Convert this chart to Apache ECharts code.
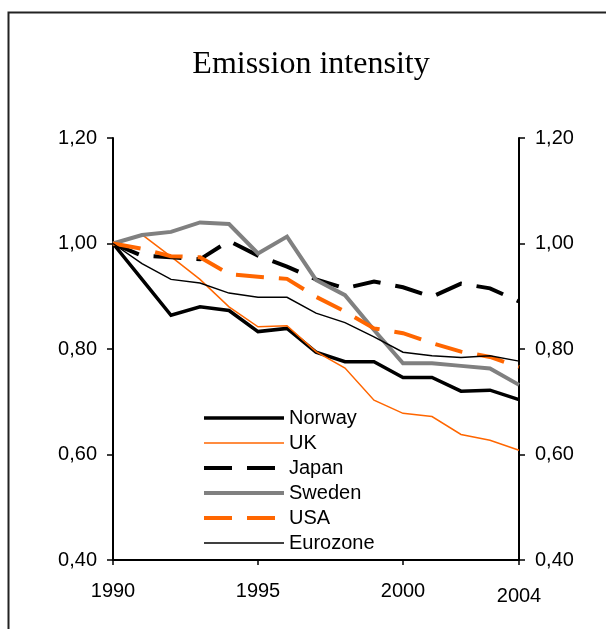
<!DOCTYPE html>
<html>
<head>
<meta charset="utf-8">
<script src="https://cdn.jsdelivr.net/npm/echarts@6/dist/echarts.min.js"></script>
<style>
html,body{margin:0;padding:0;background:#fff;}
#chart{width:606px;height:629px;}
</style>
</head>
<body>
<div id="chart"></div>
<script>
var years = [1990,1991,1992,1993,1994,1995,1996,1997,1998,1999,2000,2001,2002,2003,2004];
var norway   = [1.00, 0.932, 0.864, 0.880, 0.873, 0.833, 0.839, 0.794, 0.776, 0.776, 0.746, 0.746, 0.720, 0.722, 0.704];
var uk       = [1.00, 1.017, 0.975, 0.932, 0.880, 0.842, 0.844, 0.795, 0.764, 0.703, 0.678, 0.672, 0.638, 0.627, 0.608];
var japan    = [1.00, 0.977, 0.974, 0.970, 1.005, 0.977, 0.956, 0.932, 0.915, 0.928, 0.917, 0.899, 0.924, 0.915, 0.890];
var sweden   = [1.00, 1.016, 1.022, 1.040, 1.037, 0.981, 1.013, 0.931, 0.902, 0.836, 0.773, 0.773, 0.768, 0.763, 0.732];
var usa      = [1.00, 0.990, 0.976, 0.974, 0.942, 0.937, 0.933, 0.899, 0.871, 0.839, 0.830, 0.811, 0.795, 0.785, 0.766];
var eurozone = [1.00, 0.962, 0.932, 0.925, 0.906, 0.898, 0.898, 0.868, 0.850, 0.823, 0.794, 0.787, 0.784, 0.787, 0.777];
var seriesNames = ['Norway','UK','Japan','Sweden','USA','Eurozone'];

function pairs(vals){ return vals.map(function(v,i){ return [years[i], v]; }); }
function fmtY(v){ return v.toFixed(2).replace('.', ','); }

var font = "'Liberation Sans', Arial, sans-serif";
var chart = echarts.init(document.getElementById('chart'), null, {renderer:'canvas'});

var styles = {
  'Norway':   {color:'#000000', width:3.5, type:'solid'},
  'UK':       {color:'#FF6600', width:1.5, type:'solid'},
  'Japan':    {color:'#000000', width:4,   type:[28,15]},
  'Sweden':   {color:'#808080', width:4,   type:'solid'},
  'USA':      {color:'#FF6600', width:4,   type:[28,15]},
  'Eurozone': {color:'#000000', width:1.5, type:'solid'}
};

var yAxisBase = {
  type:'value', min:0.4, max:1.2, interval:0.2,
  splitLine:{show:false},
  axisLine:{show:true, lineStyle:{color:'#000', width:2}},
  axisTick:{show:true, length:6, lineStyle:{color:'#000', width:1.5}},
  axisLabel:{formatter:fmtY, fontSize:20, fontFamily:font, color:'#000', margin:16}
};

function mk(name, vals){
  var s = styles[name];
  return {
    name:name, type:'line', data:pairs(vals), symbol:'none', showSymbol:false,
    animation:false, silent:true,
    lineStyle:{color:s.color, width:s.width, type:s.type, cap:'butt', join:'miter'},
    itemStyle:{color:s.color}
  };
}

var option = {
  backgroundColor:'#fff',
  animation:false,
  title:{
    text:'Emission intensity', left:306, top:44, textAlign:'center',
    textStyle:{fontFamily:"'Liberation Serif', 'Times New Roman', serif", fontSize:32, fontWeight:'normal', color:'#000'}
  },
  grid:{left:113, right:87, top:138, bottom:69, containLabel:false},
  legend:{
    orient:'vertical', left:202, top:408, padding:0, itemWidth:80, itemHeight:20, itemGap:5,
    selectedMode:false,
    data:seriesNames.map(function(n){
      var s = styles[n];
      return {
        name:n,
        itemStyle:{opacity:0, borderWidth:0},
        lineStyle:{color:s.color, width:s.width, type:s.type, cap:'butt', opacity:1}
      };
    }),
    textStyle:{fontSize:20, fontFamily:font, color:'#000'}
  },
  xAxis:{
    type:'value', min:1990, max:2004, interval:5,
    splitLine:{show:false},
    axisLine:{show:true, onZero:false, lineStyle:{color:'#000', width:2}},
    axisTick:{show:true, length:5, lineStyle:{color:'#000', width:1.5}},
    axisLabel:{
      fontSize:20, fontFamily:font, color:'#000', margin:21, showMaxLabel:true,
      formatter:function(v){ return v === 2004 ? '{b|2004}' : String(v); },
      rich:{b:{fontSize:20, fontFamily:font, color:'#000', padding:[5,0,0,0]}}
    }
  },
  yAxis:[
    Object.assign({}, yAxisBase, {position:'left'}),
    Object.assign({}, yAxisBase, {position:'right'})
  ],
  graphic:[{
    type:'rect', silent:true, z:-1,
    shape:{x:8.5, y:12.5, width:700, height:700},
    style:{fill:'none', stroke:'#222', lineWidth:2}
  }],
  series:seriesNames.map(function(n, i){
    return mk(n, [norway, uk, japan, sweden, usa, eurozone][i]);
  })
};
chart.setOption(option);
</script>
</body>
</html>
